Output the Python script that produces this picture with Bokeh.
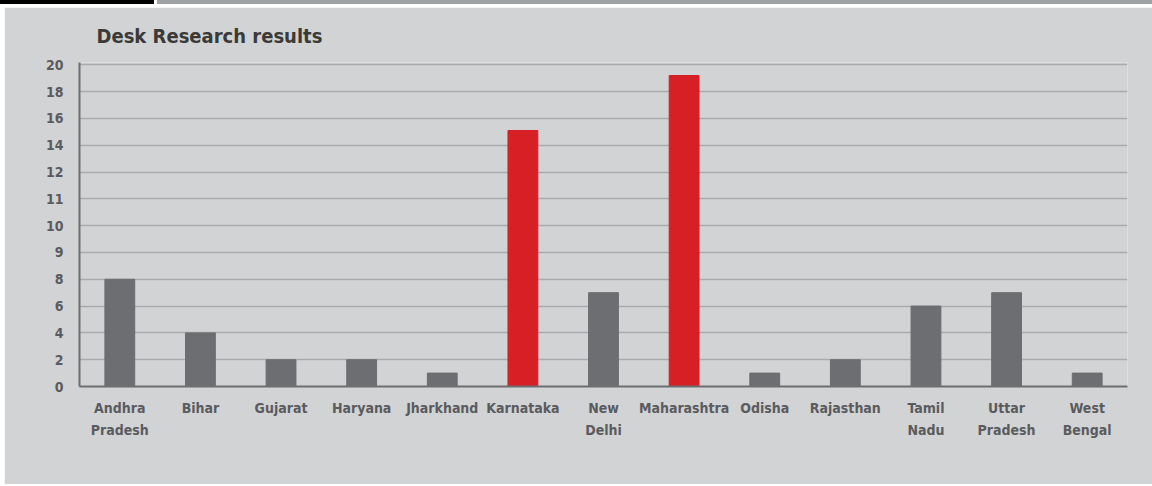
import numpy as np
from bokeh.plotting import figure
from bokeh.models import FactorRange, Range1d, FixedTicker, Div, ColumnDataSource
from bokeh.layouts import column, row
from bokeh.embed import file_html
from bokeh.resources import INLINE

# ---- data ----
states = ["Andhra Pradesh", "Bihar", "Gujarat", "Haryana", "Jharkhand", "Karnataka",
          "New Delhi", "Maharashtra", "Odisha", "Rajasthan", "Tamil Nadu",
          "Uttar Pradesh", "West Bengal"]
results = [8, 4, 2, 2, 1, 15.1, 7, 19.2, 1, 2, 6, 7, 1]
highlight = ["Karnataka", "Maharashtra"]
y_tick_labels = [0, 2, 4, 6, 8, 9, 10, 11, 12, 14, 16, 18, 20]

FONT = "'DejaVu Sans Condensed', 'Roboto', sans-serif"
BG = "#d2d3d5"
BAR_GREY = "#6d6e71"
BAR_RED = "#d71f26"
TEXT = "#5a5b5e"

# the axis is drawn with evenly spaced (non-linear) labels: map values onto it
slots = np.arange(len(y_tick_labels))
heights = np.interp(results, y_tick_labels, slots)
colors = [BAR_RED if s in highlight else BAR_GREY for s in states]
factors = [s.replace(" ", "\n") for s in states]

src = ColumnDataSource(dict(state=factors, h=heights, color=colors, value=results))

p = figure(x_range=FactorRange(*factors, range_padding=0),
           y_range=Range1d(0, 12.086),
           width=1148, height=477, output_backend="svg", toolbar_location=None,
           min_border_left=75, min_border_right=25, min_border_top=55, min_border_bottom=98,
           background_fill_color=BG, border_fill_color=BG, outline_line_color=None)
p.margin = (3, 0, 2, 4)

p.vbar(x="state", top="h", bottom=0, width=0.37, color="color", source=src)

p.title.text = "Desk Research results"
p.title.align = "left"
p.title.offset = 17
p.title.standoff = 29
p.title.text_font = FONT
p.title.text_font_size = "20px"
p.title.text_font_style = "bold"
p.title.text_color = "#3b3a36"

# y axis
p.yaxis.ticker = FixedTicker(ticks=list(slots))
p.yaxis.major_label_overrides = {int(i): str(v) for i, v in zip(slots, y_tick_labels)}
p.yaxis.major_tick_line_color = None
p.yaxis.minor_tick_line_color = None
p.yaxis.axis_line_color = BAR_GREY
p.yaxis.axis_line_width = 2
p.yaxis.major_label_standoff = 10
p.yaxis.major_label_text_font = FONT
p.yaxis.major_label_text_font_size = "14px"
p.yaxis.major_label_text_font_style = "bold"
p.yaxis.major_label_text_color = TEXT

# x axis
p.xaxis.major_tick_line_color = None
p.xaxis.minor_tick_line_color = None
p.xaxis.axis_line_color = BAR_GREY
p.xaxis.axis_line_width = 2
p.xaxis.major_label_standoff = 7
p.xaxis.major_label_text_font = FONT
p.xaxis.major_label_text_font_size = "14px"
p.xaxis.major_label_text_font_style = "bold"
p.xaxis.major_label_text_color = TEXT
p.xaxis.major_label_text_line_height = 1.42

p.xgrid.grid_line_color = None
p.ygrid.grid_line_color = "#a9aaad"
p.ygrid.grid_line_width = 1.5

black = Div(width=154, height=4, margin=(0, 0, 0, 0), styles={"background-color": "#000000"})
grey = Div(width=995, height=4, margin=(0, 0, 0, 3), styles={"background-color": "#a0a1a5"})
header = row(black, grey)

layout = column(header, p)

open("out.html", "w").write(file_html(layout, INLINE))
